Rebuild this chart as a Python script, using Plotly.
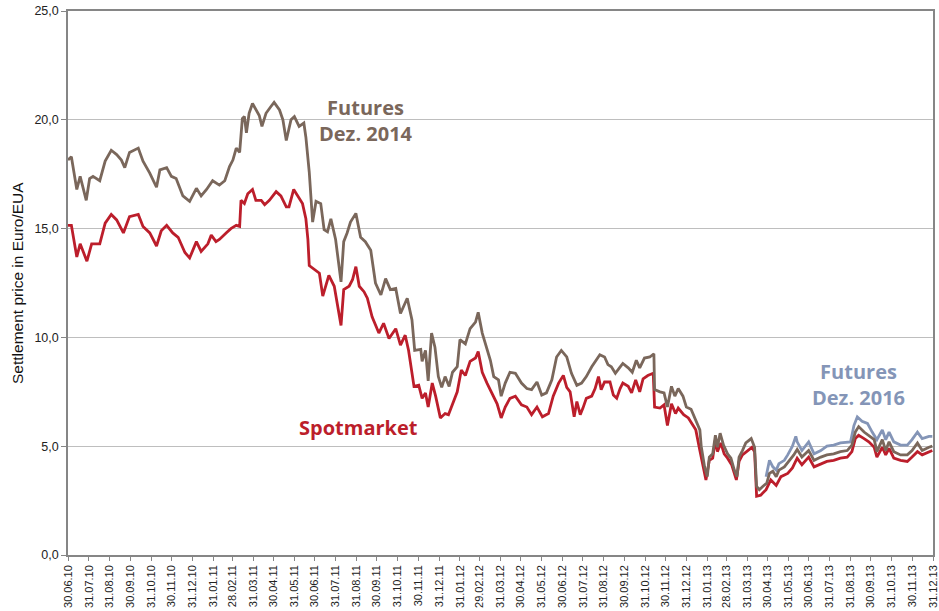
import pandas as pd
import plotly.graph_objects as go

start_date = "2010-06-30"

tick_labels = ["30.06.10","31.07.10","31.08.10","30.09.10","31.10.10","30.11.10","31.12.10",
               "31.01.11","28.02.11","31.03.11","30.04.11","31.05.11","30.06.11","31.07.11",
               "31.08.11","30.09.11","31.10.11","30.11.11","31.12.11","31.01.12","29.02.12",
               "31.03.12","30.04.12","31.05.12","30.06.12","31.07.12","31.08.12","30.09.12",
               "31.10.12","30.11.12","31.12.12","31.01.13","28.02.13","31.03.13","30.04.13",
               "31.05.13","30.06.13","31.07.13","31.08.13","30.09.13","31.10.13","30.11.13","31.12.13"]

# Futures Dez. 2014 (days after 30.06.10, EUR)
fut14_days = [0,5,13,18,27,32,37,47,55,64,72,79,84,91,104,111,121,131,136,146,153,160,170,180,190,197,205,
              214,224,232,239,244,249,254,258,261,264,268,273,278,283,287,293,300,305,313,318,323,330,335,
              342,349,352,357,362,367,374,379,384,389,396,404,408,413,418,426,433,440,448,455,463,470,477,
              485,492,502,509,513,522,524,529,533,538,543,548,553,558,564,569,576,580,588,595,603,607,613,
              620,625,630,637,641,647,654,662,671,679,686,694,701,708,716,723,730,738,745,753,760,767,775,
              782,787,794,799,804,810,816,821,829,835,841,846,853,861,867,868,876,882,887,893,898,903,910,
              915,922,927,935,937,942,946,949,954,958,961,965,970,976,981,986,990,993,998,1003,1011,1016,
              1019,1023,1028,1034,1038,1043,1048,1052,1060,1067,1074,1079,1086,1096,1104,1114,1123,1133,
              1143,1153,1160,1165,1170,1178,1185,1193,1197,1205,1210,1215,1222,1232,1242,1249,1257,1264,
              1274,1279]
fut14_vals = [18.15,18.3,16.8,17.4,16.3,17.3,17.4,17.2,18.1,18.6,18.4,18.15,17.8,18.5,18.7,18.1,17.55,16.9,
              17.7,17.8,17.4,17.3,16.5,16.25,16.85,16.5,16.8,
              17.2,17.0,17.2,17.85,18.15,18.7,18.5,20.05,20.15,19.4,20.3,20.75,20.45,20.2,19.7,20.3,20.6,
              20.8,20.45,20.0,19.05,20.0,20.15,
              19.7,19.85,19.2,17.6,15.3,16.25,16.15,14.95,14.85,15.45,14.5,12.55,14.4,14.8,15.3,15.7,14.6,
              14.4,14.0,12.5,11.95,12.7,12.2,
              12.25,11.1,11.8,10.8,9.4,9.45,8.9,9.4,8.0,10.2,9.55,8.2,7.7,8.2,7.75,8.4,8.65,9.9,9.7,10.4,
              10.7,11.15,10.2,
              9.4,8.95,8.2,8.05,7.3,7.9,8.4,8.35,7.9,7.65,7.6,7.95,7.35,7.45,8.05,9.1,9.4,9.1,8.35,7.8,7.9,
              8.2,8.65,
              8.95,9.2,9.1,8.75,8.65,8.35,8.6,8.8,8.6,8.4,8.95,8.6,9.05,9.1,9.25,7.6,7.5,7.45,6.8,7.75,7.3,
              7.65,7.3,
              6.8,6.7,6.3,5.75,5.0,4.05,3.6,4.5,4.65,5.5,4.95,5.6,5.05,4.65,4.45,3.9,3.6,4.5,4.8,5.15,5.35,
              4.95,
              3.15,3.0,3.15,3.3,3.75,3.85,3.6,3.9,4.05,4.3,4.6,4.85,4.5,4.8,4.35,4.5,4.6,4.65,
              4.75,4.8,5.05,5.65,5.9,5.65,5.5,5.3,4.75,5.3,4.8,5.2,4.75,4.6,4.6,4.8,5.15,4.8,
              4.95,5.0]

# Spotmarket
spot_days = [0,5,13,18,28,35,47,55,64,72,82,91,104,111,121,131,138,146,155,163,173,180,190,197,207,212,
             219,224,234,241,249,254,256,261,266,273,278,286,291,298,308,315,323,327,334,340,347,352,355,
             357,365,372,377,386,394,404,408,416,421,426,431,438,443,450,460,467,475,485,492,499,504,512,
             519,524,529,533,539,544,551,558,563,571,576,582,588,595,603,607,613,620,627,635,641,647,654,
             662,671,679,686,694,702,711,718,726,733,738,743,749,753,758,762,767,775,780,785,789,794,802,
             807,812,817,821,829,834,840,846,851,858,866,868,876,882,887,893,899,903,911,918,925,929,935,
             939,944,949,954,958,961,966,971,976,982,989,993,998,1006,1012,1016,1019,1025,1033,1040,1048,
             1055,1065,1072,1079,1086,1096,1104,1114,1123,1133,1143,1153,1160,1165,1170,1178,1185,1193,
             1197,1205,1210,1215,1222,1232,1242,1249,1257,1264,1274,1279]
spot_vals = [15.15,15.15,13.7,14.3,13.5,14.3,14.3,15.25,15.65,15.4,14.8,15.55,15.65,15.1,14.8,14.2,14.9,
             15.15,14.8,14.6,13.9,13.65,14.4,13.95,14.3,14.7,
             14.4,14.5,14.8,15.0,15.15,15.1,16.3,16.15,16.6,16.8,16.3,16.3,16.1,16.3,16.7,16.5,16.0,16.0,
             16.8,16.5,16.15,15.45,14.5,
             13.3,13.1,12.95,11.9,12.85,12.35,10.55,12.2,12.35,12.65,13.25,12.35,12.1,11.8,10.95,10.2,
             10.65,9.95,10.4,9.65,10.1,9.4,7.75,
             7.8,7.2,7.45,6.8,7.9,7.3,6.3,6.5,6.45,7.1,7.5,8.5,8.25,8.9,9.05,9.35,8.4,7.9,7.45,6.95,6.3,
             6.8,7.2,
             7.3,6.9,6.8,6.45,6.8,6.35,6.5,7.3,7.9,8.25,7.7,7.5,6.35,7.05,6.45,6.75,7.2,7.3,7.65,8.2,7.6,
             7.95,7.95,
             7.35,7.2,7.65,7.9,7.75,7.45,8.05,7.5,8.1,8.25,8.35,6.8,6.75,6.9,5.95,6.95,6.5,6.75,6.45,6.3,
             5.95,5.75,4.8,
             4.15,3.45,4.35,4.45,5.3,4.75,5.15,4.65,4.45,4.15,3.45,4.3,4.6,4.8,4.95,4.75,2.7,2.75,3.0,
             3.45,3.2,
             3.6,3.75,4.0,4.45,4.15,4.5,4.05,4.2,4.3,4.35,4.45,4.5,4.75,5.35,5.5,5.35,5.2,4.95,
             4.5,4.95,4.6,4.9,4.45,4.35,4.3,4.5,4.75,4.6,4.75,4.8]

# Futures Dez. 2016
fut16_days = [1033,1038,1043,1048,1052,1060,1065,1072,1077,1079,1086,1096,1104,1114,1123,1133,1143,1153,
              1158,1163,1168,1175,1183,1190,1197,1205,1210,1215,1222,1232,1242,1249,1257,1264,1274,1279]
fut16_vals = [3.6,4.35,4.05,3.9,4.2,4.35,4.6,5.0,5.45,5.2,4.8,5.2,4.65,4.8,5.0,5.05,5.15,5.2,
              5.2,5.95,6.35,6.15,6.05,5.65,5.3,5.75,5.3,5.65,5.2,5.05,5.05,5.3,5.65,5.35,5.45,5.45]

c_fut14 = "#7A675B"
c_spot = "#BC1E2B"
c_fut16 = "#8495B7"

t0 = pd.Timestamp(start_date)
def to_dates(days):
    return [t0 + pd.Timedelta(days=d) for d in days]

tickvals = pd.to_datetime(tick_labels, format="%d.%m.%y")

fig = go.Figure()
fig.add_trace(go.Scatter(x=to_dates(spot_days), y=spot_vals, mode="lines",
                         line=dict(color=c_spot, width=2.8), name="Spotmarket"))
fig.add_trace(go.Scatter(x=to_dates(fut16_days), y=fut16_vals, mode="lines",
                         line=dict(color=c_fut16, width=2.8), name="Futures Dez. 2016"))
fig.add_trace(go.Scatter(x=to_dates(fut14_days), y=fut14_vals, mode="lines",
                         line=dict(color=c_fut14, width=2.8), name="Futures Dez. 2014"))

ann_font = "Open Sans, Lato, sans-serif"
fig.add_annotation(x=pd.Timestamp("2011-09-14"), y=19.95, text="<b>Futures<br>Dez. 2014</b>",
                   showarrow=False, font=dict(family=ann_font, size=20, color=c_fut14), align="center")
fig.add_annotation(x=pd.Timestamp("2011-09-03"), y=5.85, text="<b>Spotmarket</b>",
                   showarrow=False, font=dict(family=ann_font, size=20, color=c_spot))
fig.add_annotation(x=pd.Timestamp("2013-09-12"), y=7.85, text="<b>Futures<br>Dez. 2016</b>",
                   showarrow=False, font=dict(family=ann_font, size=20, color=c_fut16), align="center")
fig.add_annotation(xref="paper", yref="paper", x=-0.059, y=0.5, xanchor="center", yanchor="middle",
                   text="Settlement price in Euro/EUA", textangle=-90, showarrow=False,
                   font=dict(size=15.5, family="Liberation Sans, Arial, sans-serif", color="#111111"))

fig.update_layout(
    width=939, height=611,
    margin=dict(l=68, r=6, t=11, b=56),
    paper_bgcolor="white", plot_bgcolor="white",
    showlegend=False,
    separators=",.",
    font=dict(family="Liberation Sans, Arial, sans-serif", color="#222222"),
)
fig.update_xaxes(
    type="date", automargin=False,
    range=[tickvals[0], tickvals[-1]],
    tickvals=tickvals, ticktext=tick_labels, tickangle=-90,
    tickfont=dict(size=11, family="Liberation Sans, Arial, sans-serif"),
    ticks="outside", ticklen=4, tickcolor="#868686",
    showgrid=False, showline=True, linecolor="#868686", linewidth=1.5, mirror=True,
    zeroline=False,
)
fig.update_yaxes(
    automargin=False,
    range=[0, 25], dtick=5, tickformat=".1f",
    tickfont=dict(size=12.5, family="Liberation Sans, Arial, sans-serif"),
    ticks="outside", ticklen=5, tickcolor="#868686",
    showgrid=True, gridcolor="#BEBEBE", gridwidth=1.2,
    showline=True, linecolor="#868686", linewidth=1.5, mirror=True,
    zeroline=False,
)

fig.write_html("out.html", config={"displayModeBar": False},
               post_script="document.body.style.margin='0';document.body.style.overflow='hidden';")
